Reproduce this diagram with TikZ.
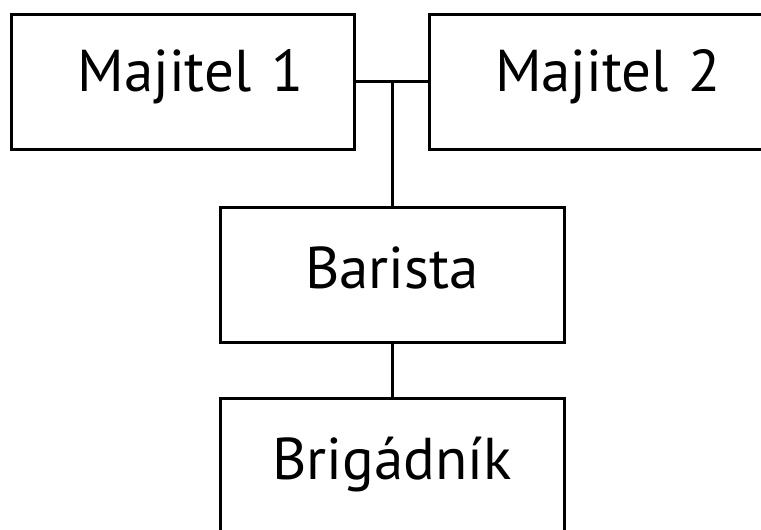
\documentclass[tikz,border=0pt]{standalone}
\usepackage{fontspec}
\setmainfont{PT Sans}
\begin{document}
\begin{tikzpicture}[x=1pt, y=-1pt,
    box/.style={draw, line width=3pt, inner xsep=0pt, inner ysep=0pt,
      minimum height=135pt, text height=41pt, text depth=14pt,
      font=\fontsize{59}{70}\selectfont},
    ownerbox/.style={box, text width=342.5pt, align=left, text depth=21pt,
      execute at begin node={\hspace*{66pt}}},
    staffbox/.style={box, text width=344pt, align=center},
    link/.style={line width=3pt}]
    % Frame of the picture
    \useasboundingbox (0,0) rectangle (761,530);
    \clip (0,0) rectangle (761,530);

    % Owners
    \node[ownerbox] (m1) at (182.75,81.75) {Majitel 1};
    \node[ownerbox] (m2) at (600.25,81.75) {Majitel 2};

    % Staff
    \node[staffbox] (barista) at (392,275) {Barista};
    \node[staffbox] (brigadnik) at (392,466) {Brigádník};

    % Links
    \draw[link] (m1.east) -- (m2.west);
    \draw[link] (barista.north) -- (barista.north |- m1.east);
    \draw[link] (barista.south) -- (brigadnik.north);
  \end{tikzpicture}
\end{document}
